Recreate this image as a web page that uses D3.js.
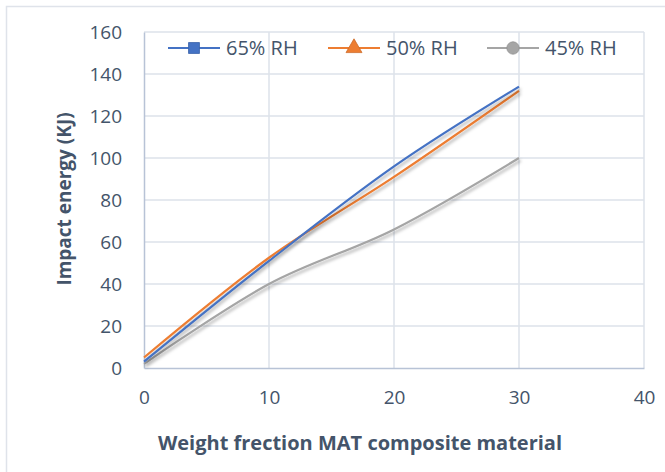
<!DOCTYPE html>
<html>
<head>
<meta charset="utf-8">
<script src="https://cdn.jsdelivr.net/npm/d3@7"></script>
<style>
  body { margin: 0; background: #fff; }
  text { font-family: "Open Sans", sans-serif; fill: #44546a; }
</style>
</head>
<body>
<div id="chart"></div>
<script>
var xValues = [0, 10, 20, 30];
var rh65 = [3, 51, 96, 134];
var rh50 = [5, 52.5, 91, 132];
var rh45 = [2, 40, 66, 100];
var seriesNames = ["65% RH", "50% RH", "45% RH"];
var xTicks = [0, 10, 20, 30, 40];
var yTicks = [0, 20, 40, 60, 80, 100, 120, 140, 160];

var width = 665, height = 472;
var margin = { top: 32, right: 21, bottom: 104, left: 144 };
var plotW = width - margin.left - margin.right,
    plotH = height - margin.top - margin.bottom;

var svg = d3.select("#chart").append("svg")
    .attr("width", width)
    .attr("height", height);

// outer chart border (only top/left show in the crop)
svg.append("path")
    .attr("d", "M6.5,472V6.5H665")
    .attr("fill", "none")
    .attr("stroke", "#dfe3ea")
    .attr("stroke-width", 1.5);

var defs = svg.append("defs");
defs.append("filter")
    .attr("id", "shadow")
    .attr("x", "-10%").attr("y", "-10%")
    .attr("width", "130%").attr("height", "130%")
  .append("feDropShadow")
    .attr("dx", 1.5).attr("dy", 2.5)
    .attr("stdDeviation", 1.6)
    .attr("flood-color", "#000")
    .attr("flood-opacity", 0.3);

var g = svg.append("g")
    .attr("transform", "translate(" + margin.left + "," + margin.top + ")");

var x = d3.scaleLinear().domain([0, 40]).range([0, plotW]);
var y = d3.scaleLinear().domain([0, 160]).range([plotH, 0]);

// gridlines
g.append("g").selectAll("line")
    .data(yTicks.slice(1))
  .enter().append("line")
    .attr("x1", 0).attr("x2", plotW)
    .attr("y1", function (d) { return y(d); })
    .attr("y2", function (d) { return y(d); })
    .attr("stroke", "#dde2ea")
    .attr("stroke-width", 1.5);

g.append("g").selectAll("line")
    .data(xTicks.slice(1))
  .enter().append("line")
    .attr("x1", function (d) { return x(d); })
    .attr("x2", function (d) { return x(d); })
    .attr("y1", 0).attr("y2", plotH)
    .attr("stroke", "#dde2ea")
    .attr("stroke-width", 1.5);

// axes
var xAxis = g.append("g")
    .attr("transform", "translate(0," + plotH + ")")
    .call(d3.axisBottom(x).tickValues(xTicks).tickSize(0).tickPadding(23));
var yAxis = g.append("g")
    .call(d3.axisLeft(y).tickValues(yTicks).tickSize(0).tickPadding(22));

[xAxis, yAxis].forEach(function (a) {
    a.select(".domain").attr("stroke", "#b8c3d6").attr("stroke-width", 1.5);
    a.selectAll("text")
        .attr("font-family", "Open Sans, sans-serif")
        .attr("font-size", 19)
        .attr("fill", "#44546a");
});
yAxis.selectAll("text").attr("dy", "0.34em");
xAxis.selectAll("text").attr("dy", "0.71em");

// lines
var line = d3.line()
    .curve(d3.curveCatmullRom.alpha(0))
    .x(function (d, i) { return x(xValues[i]); })
    .y(function (d) { return y(d); });

var series = [
    { name: seriesNames[0], values: rh65, color: "#4472c4", marker: "square" },
    { name: seriesNames[1], values: rh50, color: "#ed7d31", marker: "triangle" },
    { name: seriesNames[2], values: rh45, color: "#a5a5a5", marker: "circle" }
];

g.selectAll(".series")
    .data(series.slice().reverse())
  .enter().append("path")
    .attr("class", "series")
    .attr("d", function (d) { return line(d.values); })
    .attr("fill", "none")
    .attr("stroke", function (d) { return d.color; })
    .attr("stroke-width", 2.2)
    .attr("filter", "url(#shadow)");

// legend
var legendX = [168, 328, 487];
var legend = svg.append("g").attr("transform", "translate(0,48)");
var item = legend.selectAll(".item")
    .data(series)
  .enter().append("g")
    .attr("class", "item")
    .attr("transform", function (d, i) { return "translate(" + legendX[i] + ",0)"; });

item.append("line")
    .attr("x1", 0).attr("x2", 52)
    .attr("stroke", function (d) { return d.color; })
    .attr("stroke-width", 2.2);

var symbols = { square: d3.symbolSquare, triangle: d3.symbolTriangle, circle: d3.symbolCircle };
item.append("path")
    .attr("transform", "translate(26,0)")
    .attr("d", function (d) { return d3.symbol().type(symbols[d.marker]).size(d.marker === "triangle" ? 110 : 120)(); })
    .attr("fill", function (d) { return d.color; })
    .attr("stroke", function (d) { return d3.color(d.color).darker(0.4); })
    .attr("stroke-width", 0.8);

item.append("text")
    .attr("x", 58)
    .attr("dy", "0.35em")
    .attr("font-size", 20)
    .text(function (d) { return d.name; });

// axis titles
svg.append("text")
    .attr("x", 360)
    .attr("y", 450)
    .attr("text-anchor", "middle")
    .attr("font-size", 20)
    .attr("font-weight", "bold")
    .text("Weight frection MAT composite material");

svg.append("text")
    .attr("transform", "translate(71,199) rotate(-90)")
    .attr("text-anchor", "middle")
    .attr("font-size", 19)
    .attr("font-weight", "bold")
    .text("Impact energy (KJ)");
</script>
</body>
</html>
